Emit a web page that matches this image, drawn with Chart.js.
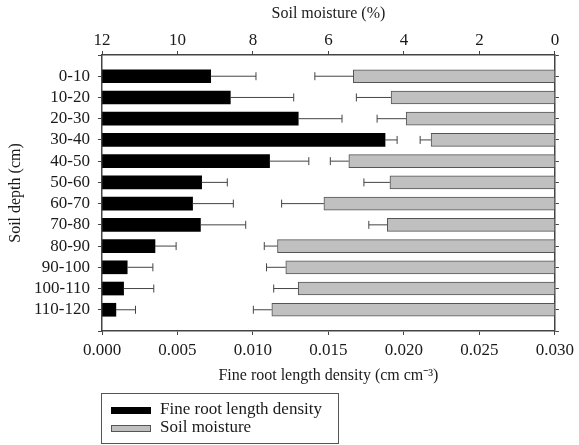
<!DOCTYPE html>
<html lang="en">

<head>
    <meta charset="UTF-8" />
    <title>Fine root length density and soil moisture</title>
    <script src="https://cdn.jsdelivr.net/npm/chart.js"></script>
    <style>
        body { margin: 0; background: #fff; }
        #wrap { position: relative; width: 579px; height: 445px; }
        #legend {
            position: absolute; left: 101px; top: 393px; width: 236px; height: 49px;
            border: 1px solid #555; font-family: 'Liberation Serif', serif; font-size: 17px; color: #1a1a1a;
        }
        .item { position: absolute; left: 9px; height: 18px; line-height: 18px; white-space: nowrap; }
        .swatch { display: inline-block; width: 40px; height: 7px; margin-right: 9px; vertical-align: middle; box-sizing: border-box; }
    </style>
</head>

<body>
    <div id="wrap">
        <canvas id="grafik" width="579" height="445"></canvas>
        <div id="legend">
            <div class="item" style="top: 6px;"><span class="swatch" style="background:#000;"></span>Fine root length density</div>
            <div class="item" style="top: 24px;"><span class="swatch" style="background:#c0c0c0;border:1px solid #555;"></span>Soil moisture</div>
        </div>
    </div>

    <script>
        // data
        const depthLabels = ['0-10', '10-20', '20-30', '30-40', '40-50', '50-60', '60-70', '70-80', '80-90', '90-100', '100-110', '110-120'];
        const rootDensity = [0.0072, 0.0085, 0.0130, 0.01875, 0.0111, 0.0066, 0.0060, 0.00652, 0.00351, 0.00167, 0.00143, 0.00092];
        const rootDensityErr = [0.0030, 0.0042, 0.0029, 0.0008, 0.0026, 0.0017, 0.0027, 0.0030, 0.0014, 0.0017, 0.0020, 0.0013];
        const soilMoisture = [5.34, 4.34, 3.94, 3.28, 5.46, 4.37, 6.12, 4.44, 7.35, 7.13, 6.80, 7.50];
        const soilMoistureErr = [1.02, 0.92, 0.77, 0.29, 0.49, 0.69, 1.12, 0.49, 0.35, 0.51, 0.65, 0.49];
        const densityTicks = [0, 0.005, 0.010, 0.015, 0.020, 0.025, 0.030];

        const serif = "'Liberation Serif', 'Times New Roman', serif";
        Chart.defaults.font.family = serif;
        Chart.defaults.color = '#1a1a1a';

        const axisColor = '#444';

        // error bars: line from bar end outwards plus a small cap
        const errorBars = {
            id: 'errorBars',
            afterDatasetsDraw(chart) {
                const ctx = chart.ctx;
                const sets = [
                    { scale: chart.scales.x, vals: rootDensity, errs: rootDensityErr },
                    { scale: chart.scales.x2, vals: soilMoisture, errs: soilMoistureErr }
                ];
                ctx.save();
                ctx.strokeStyle = '#444';
                ctx.lineWidth = 1;
                sets.forEach((s, di) => {
                    const meta = chart.getDatasetMeta(di);
                    meta.data.forEach((bar, i) => {
                        const end = s.scale.getPixelForValue(s.vals[i] + s.errs[i]);
                        ctx.beginPath();
                        ctx.moveTo(bar.x, bar.y);
                        ctx.lineTo(end, bar.y);
                        ctx.moveTo(end, bar.y - 4);
                        ctx.lineTo(end, bar.y + 4);
                        ctx.stroke();
                    });
                });
                ctx.restore();
            }
        };

        const ctx = document.getElementById('grafik').getContext('2d');
        new Chart(ctx, {
            type: 'bar',
            data: {
                datasets: [{
                    label: 'Fine root length density',
                    data: rootDensity.map((v, i) => ({ x: v, y: i })),
                    xAxisID: 'x',
                    yAxisID: 'y',
                    backgroundColor: '#000',
                    barThickness: 13,
                    grouped: false
                }, {
                    label: 'Soil moisture',
                    data: soilMoisture.map((v, i) => ({ x: v, y: i })),
                    xAxisID: 'x2',
                    yAxisID: 'y',
                    backgroundColor: '#c0c0c0',
                    borderColor: '#555',
                    borderWidth: 1,
                    barThickness: 13,
                    grouped: false
                }]
            },
            options: {
                indexAxis: 'y',
                responsive: false,
                animation: false,
                layout: { padding: { left: 0, right: 0, top: 0, bottom: 60 } },
                plugins: { legend: { display: false }, tooltip: { enabled: false } },
                scales: {
                    x: {
                        type: 'linear', position: 'bottom', min: 0, max: 0.030,
                        afterBuildTicks: (s) => { s.ticks = densityTicks.map(v => ({ value: v })); },
                        ticks: { font: { size: 17 }, padding: 5, maxRotation: 0, callback: (v) => v.toFixed(3) },
                        grid: { drawOnChartArea: false, tickLength: 4, color: axisColor },
                        border: { color: axisColor, width: 1.5 },
                        title: { display: true, text: 'Fine root length density (cm cm\u207B\u00B3)', font: { size: 16 }, padding: { top: 0, bottom: 0 } },
                        afterFit: (s) => { s.height = 54; }
                    },
                    x2: {
                        type: 'linear', position: 'top', min: 0, max: 12, reverse: true,
                        ticks: { font: { size: 17 }, stepSize: 2, padding: 0, maxRotation: 0 },
                        grid: { drawOnChartArea: false, tickLength: 4, color: axisColor },
                        border: { color: axisColor, width: 1.5 },
                        title: { display: true, text: 'Soil moisture (%)', font: { size: 16 }, padding: { top: 4, bottom: 0 } },
                        afterFit: (s) => { s.height = 55; }
                    },
                    y: {
                        type: 'linear', position: 'left', min: -1, max: 12, reverse: true, offset: false,
                        ticks: { font: { size: 17 }, stepSize: 1, autoSkip: false, padding: 8, callback: (v) => depthLabels[v] || '' },
                        grid: { drawOnChartArea: false, offset: false, tickLength: 4, color: axisColor },
                        border: { color: axisColor, width: 1.5 },
                        title: { display: true, text: 'Soil depth (cm)', font: { size: 16 }, padding: { top: 6, bottom: 0 } },
                        afterFit: (s) => { s.width = 102; }
                    },
                    y2: {
                        type: 'linear', position: 'right', min: -1, max: 12, reverse: true, offset: false,
                        ticks: { stepSize: 1, autoSkip: false, callback: () => '' },
                        grid: { drawOnChartArea: false, offset: false, tickLength: 4, color: axisColor },
                        border: { color: axisColor, width: 1.5 },
                        afterFit: (s) => { s.width = 21; }
                    }
                }
            },
            plugins: [errorBars]
        });
    </script>
</body>

</html>
